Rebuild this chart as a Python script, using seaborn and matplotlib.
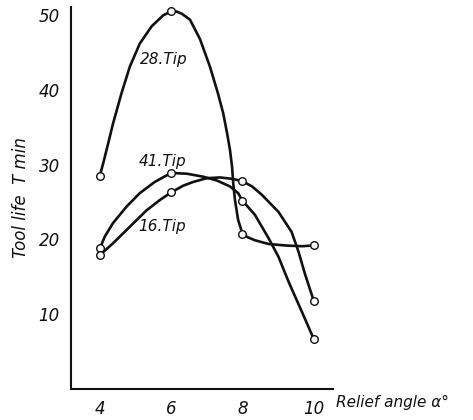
"""
Tool life T vs. relief angle for three carbide tips (28, 41, 16).
Curves traced by hand from the scanned figure, circles are the measured points.
"""

import pandas as pd
import matplotlib
matplotlib.use("Agg")
import matplotlib.pyplot as plt
import seaborn as sns

# ---------------------- DATA ----------------------
# measured points
angle_pts = [4, 6, 8, 10]
tip28_pts = [28.5, 50.5, 20.8, 19.2]
tip41_pts = [18.8, 28.9, 25.2, 6.7]
tip16_pts = [17.9, 26.3, 27.8, 11.8]

# hand-drawn curve traces through the points
tip28_x = [4.0, 4.1, 4.19, 4.37, 4.61, 4.84, 5.12, 5.45, 5.78, 6.0, 6.15, 6.3, 6.53, 6.81, 7.09,
           7.31, 7.46, 7.57, 7.65, 7.71, 7.74, 7.79, 7.88, 8.0, 8.15, 8.35, 8.73, 9.2, 9.67, 10.0]
tip28_y = [28.5, 30.3, 32.0, 35.5, 39.6, 43.1, 46.2, 48.5, 50.0, 50.5, 50.5, 50.2, 49.4, 46.8, 43.1,
           39.6, 36.9, 34.2, 32.0, 29.7, 27.6, 25.3, 22.6, 20.8, 20.3, 19.9, 19.4, 19.2, 19.1, 19.2]

tip41_x = [4.0, 4.14, 4.37, 4.75, 5.12, 5.54, 6.0, 6.44, 6.9, 7.28, 7.65, 7.88, 8.0,
           8.35, 8.73, 9.01, 9.29, 9.67, 10.0]
tip41_y = [18.8, 20.4, 22.2, 24.4, 26.2, 27.7, 28.9, 28.8, 28.4, 27.9, 27.1, 26.2, 25.2,
           23.3, 20.2, 17.7, 14.4, 10.3, 6.7]

tip16_x = [4.0, 4.37, 4.84, 5.31, 5.69, 6.0, 6.34, 6.62, 7.0, 7.37, 7.74, 8.0,
           8.27, 8.54, 9.01, 9.38, 9.57, 9.76, 10.0]
tip16_y = [17.9, 19.5, 21.7, 23.9, 25.3, 26.3, 27.2, 27.7, 28.2, 28.3, 28.1, 27.8,
           27.1, 26.0, 23.7, 21.0, 18.4, 15.3, 11.8]

x_ticks = [4, 6, 8, 10]
y_ticks = [10, 20, 30, 40, 50]
# -------------------------------------------------------------------------

curves = pd.concat([
    pd.DataFrame({"angle": tip28_x, "T": tip28_y, "tip": "28"}),
    pd.DataFrame({"angle": tip41_x, "T": tip41_y, "tip": "41"}),
    pd.DataFrame({"angle": tip16_x, "T": tip16_y, "tip": "16"}),
], ignore_index=True)

points = pd.concat([
    pd.DataFrame({"angle": angle_pts, "T": tip28_pts, "tip": "28"}),
    pd.DataFrame({"angle": angle_pts, "T": tip41_pts, "tip": "41"}),
    pd.DataFrame({"angle": angle_pts, "T": tip16_pts, "tip": "16"}),
], ignore_index=True)

sns.set_style("white")
plt.rcParams["font.family"] = ["DejaVu Sans"]
plt.rcParams["font.style"] = "italic"
plt.rcParams["lines.solid_joinstyle"] = "round"

fig = plt.figure(figsize=(4.73, 4.2), dpi=100)
ax = fig.add_axes([0.150, 0.0738, 0.554, 0.9095])

sns.lineplot(data=curves, x="angle", y="T", units="tip", estimator=None, sort=False,
             color="#111111", linewidth=1.9, ax=ax)
sns.scatterplot(data=points, x="angle", y="T", marker="o", s=30,
                facecolor="white", edgecolor="#111111", linewidth=1.0, zorder=5, ax=ax)

ax.set_xlim(3.19, 10.54)
ax.set_ylim(0, 51.1)
ax.set_xticks(x_ticks)
ax.set_yticks(y_ticks)
ax.set_xticklabels([str(v) for v in x_ticks])
ax.set_yticklabels([str(v) for v in y_ticks])
ax.tick_params(axis="both", direction="in", length=3, width=1, labelsize=12,
               colors="#111111", pad=8)

for side in ["top", "right"]:
    ax.spines[side].set_visible(False)
for side in ["left", "bottom"]:
    ax.spines[side].set_linewidth(1.5)
    ax.spines[side].set_color("#111111")

ax.set_ylabel("Tool life  T min", fontsize=12, color="#111111")
ax.yaxis.set_label_coords(-0.156, 0.5)
ax.set_xlabel("Relief angle α°", fontsize=11, color="#111111", ha="left")
ax.xaxis.set_label_coords(1.01, -0.016)

ax.text(5.12, 44.1, "28.Tip", fontsize=11, va="center", ha="left", color="#111111")
ax.text(5.08, 30.4, "41.Tip", fontsize=11, va="center", ha="left", color="#111111")
ax.text(5.08, 21.7, "16.Tip", fontsize=11, va="center", ha="left", color="#111111")

fig.savefig("out.png", dpi=100)
